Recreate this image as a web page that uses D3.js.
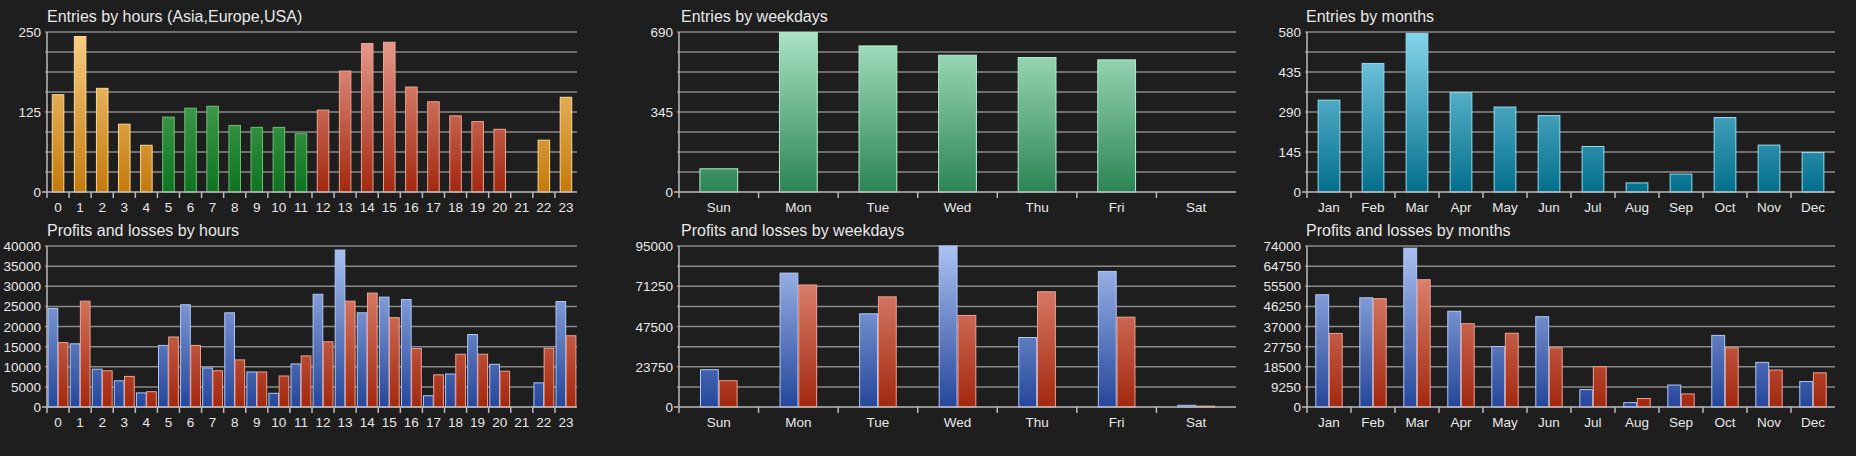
<!DOCTYPE html>
<html><head><meta charset="utf-8">
<script src="https://cdn.jsdelivr.net/npm/d3@7"></script>
<style>
body { margin: 0; background: #1e1e1e; }
text { font-family: "Liberation Sans", Arial, sans-serif; fill: #e8e8e8; }
</style></head>
<body><svg id="view" width="1856" height="456"></svg>
<script>

const hours = d3.range(24).map(String);
const hourEntries = [152, 243, 162, 106, 73, 117, 131, 134, 104, 101, 101, 91, 128, 189, 232, 234, 164, 141, 119, 110, 98, 0, 81, 148];
const hourRegion = ['a','a','a','a','a','e','e','e','e','e','e','e','u','u','u','u','u','u','u','u','u','u','a','a'];
const hourProfits = [24500, 15700, 9400, 6500, 3500, 15300, 25400, 9700, 23400, 8700, 3400, 10700, 28000, 39000, 23400, 27300, 26700, 2800, 8200, 18000, 10600, 0, 6000, 26200];
const hourLosses = [16000, 26300, 9000, 7600, 3800, 17400, 15300, 9000, 11700, 8700, 7700, 12700, 16200, 26300, 28300, 22200, 14500, 8000, 13100, 13100, 8900, 0, 14600, 17700];

const weekdays = ['Sun', 'Mon', 'Tue', 'Wed', 'Thu', 'Fri', 'Sat'];
const weekdayEntries = [100, 688, 630, 590, 580, 570, 0];
const weekdayProfits = [22000, 79000, 55000, 95000, 41000, 80000, 1000];
const weekdayLosses = [15500, 72000, 65000, 54000, 68000, 53000, 500];

const months = ['Jan', 'Feb', 'Mar', 'Apr', 'May', 'Jun', 'Jul', 'Aug', 'Sep', 'Oct', 'Nov', 'Dec'];
const monthEntries = [333, 466, 575, 360, 308, 277, 165, 33, 65, 270, 170, 143];
const monthProfits = [51600, 50200, 73000, 44000, 27800, 41500, 8000, 2000, 10100, 32900, 20500, 11700];
const monthLosses = [33800, 49800, 58500, 38300, 33900, 27200, 18500, 3900, 6000, 27200, 17000, 15700];

const colors = {
    a: ['#f7cf85', '#c47a0c'],
    e: ['#66b56a', '#0d7420'],
    u: ['#eba092', '#a2280e'],
    g: ['#a9e3c4', '#2c8454'],
    t: ['#86d4ea', '#036f8c'],
    p: ['#abc2f2', '#25469a'],
    l: ['#ea9684', '#a2280e']
};
const strokes = { a: '#ffd890', e: '#6ac070', u: '#f0a090', g: '#b0ecd0', t: '#90dcf0', p: '#b0c8f8', l: '#f0a090' };

let svg = d3.select('#view');
let defs = svg.append('defs');
let gid = 0;

function panel(opt) {
    let x0 = opt.x0, x1 = opt.x1, top = opt.top, base = opt.base;
    let g = svg.append('g');
    g.append('text').attr('x', opt.tx).attr('y', top - 10).attr('font-size', 16).text(opt.title);

    let y = d3.scaleLinear().domain([0, opt.max]).range([base, top]);
    let x = d3.scaleBand().domain(opt.cats).range([x0, x1]);

    // gradients for this panel
    let grad = {};
    Object.keys(colors).forEach(k => {
        let id = 'g' + (gid++);
        let lg = defs.append('linearGradient').attr('id', id).attr('gradientUnits', 'userSpaceOnUse')
            .attr('x1', 0).attr('x2', 0).attr('y1', top).attr('y2', base);
        lg.append('stop').attr('offset', 0).attr('stop-color', colors[k][0]);
        lg.append('stop').attr('offset', 1).attr('stop-color', colors[k][1]);
        grad[k] = id;
    });

    let steps = d3.range(9).map(i => opt.max * i / 8);
    g.selectAll('line.grid').data(steps.slice(1)).enter().append('line')
        .attr('x1', x0 - 2).attr('x2', x1).attr('y1', d => y(d)).attr('y2', d => y(d))
        .attr('stroke', '#8a8a8a').attr('stroke-width', 1.5);
    g.selectAll('text.yl').data(steps.filter((d, i) => i % opt.every == 0)).enter().append('text')
        .attr('x', x0 - 6).attr('y', d => y(d) + 5).attr('text-anchor', 'end').attr('font-size', 13.5)
        .text(d => d3.format('d')(d));

    let series = opt.series;
    let n = series.length;
    let inner = x.bandwidth() * opt.fill;
    let sub = d3.scaleBand().domain(d3.range(n)).range([0, inner]).paddingInner(0.05);
    series.forEach((s, si) => {
        g.selectAll('rect.s' + si).data(opt.cats).enter().append('rect')
            .attr('x', (c) => x(c) + (x.bandwidth() - inner) / 2 + sub(si))
            .attr('width', sub.bandwidth())
            .attr('y', (c, i) => y(s.values[i]))
            .attr('height', (c, i) => base - y(s.values[i]))
            .attr('fill', (c, i) => 'url(#' + grad[s.color(i)] + ')')
            .attr('stroke', (c, i) => strokes[s.color(i)])
            .attr('stroke-width', (c, i) => s.values[i] > 0 ? 1 : 0);
    });

    g.append('line').attr('x1', x0).attr('x2', x0).attr('y1', top).attr('y2', base + 6).attr('stroke', '#bbb').attr('stroke-width', 1.5);
    g.append('line').attr('x1', x0 - 5).attr('x2', x1).attr('y1', base).attr('y2', base).attr('stroke', '#bbb').attr('stroke-width', 1.5);
    g.selectAll('line.tk').data(opt.cats.slice(1)).enter().append('line')
        .attr('x1', c => x(c)).attr('x2', c => x(c)).attr('y1', base).attr('y2', base + 6)
        .attr('stroke', '#bbb').attr('stroke-width', 1.5);
    g.selectAll('text.xl').data(opt.cats).enter().append('text')
        .attr('x', c => x(c) + x.bandwidth() / 2).attr('y', base + 20).attr('text-anchor', 'middle')
        .attr('font-size', 13.5).text(c => c);
}

const cols = [
    { x0: 47, x1: 577, tx: 47 },
    { x0: 679, x1: 1236, tx: 681 },
    { x0: 1307, x1: 1835, tx: 1306 }
];
const rows = [{ top: 32, base: 192 }, { top: 246, base: 407 }];

panel(Object.assign({}, cols[0], rows[0], { title: 'Entries by hours (Asia,Europe,USA)', cats: hours, max: 250, every: 4, fill: 0.55,
    series: [{ values: hourEntries, color: i => hourRegion[i] }] }));
panel(Object.assign({}, cols[1], rows[0], { title: 'Entries by weekdays', cats: weekdays, max: 690, every: 4, fill: 0.5,
    series: [{ values: weekdayEntries, color: i => 'g' }] }));
panel(Object.assign({}, cols[2], rows[0], { title: 'Entries by months', cats: months, max: 580, every: 2, fill: 0.52,
    series: [{ values: monthEntries, color: i => 't' }] }));
panel(Object.assign({}, cols[0], rows[1], { title: 'Profits and losses by hours', cats: hours, max: 40000, every: 1, fill: 0.9,
    series: [{ values: hourProfits, color: i => 'p' }, { values: hourLosses, color: i => 'l' }] }));
panel(Object.assign({}, cols[1], rows[1], { title: 'Profits and losses by weekdays', cats: weekdays, max: 95000, every: 2, fill: 0.46,
    series: [{ values: weekdayProfits, color: i => 'p' }, { values: weekdayLosses, color: i => 'l' }] }));
panel(Object.assign({}, cols[2], rows[1], { title: 'Profits and losses by months', cats: months, max: 74000, every: 1, fill: 0.6,
    series: [{ values: monthProfits, color: i => 'p' }, { values: monthLosses, color: i => 'l' }] }));

</script></body></html>
